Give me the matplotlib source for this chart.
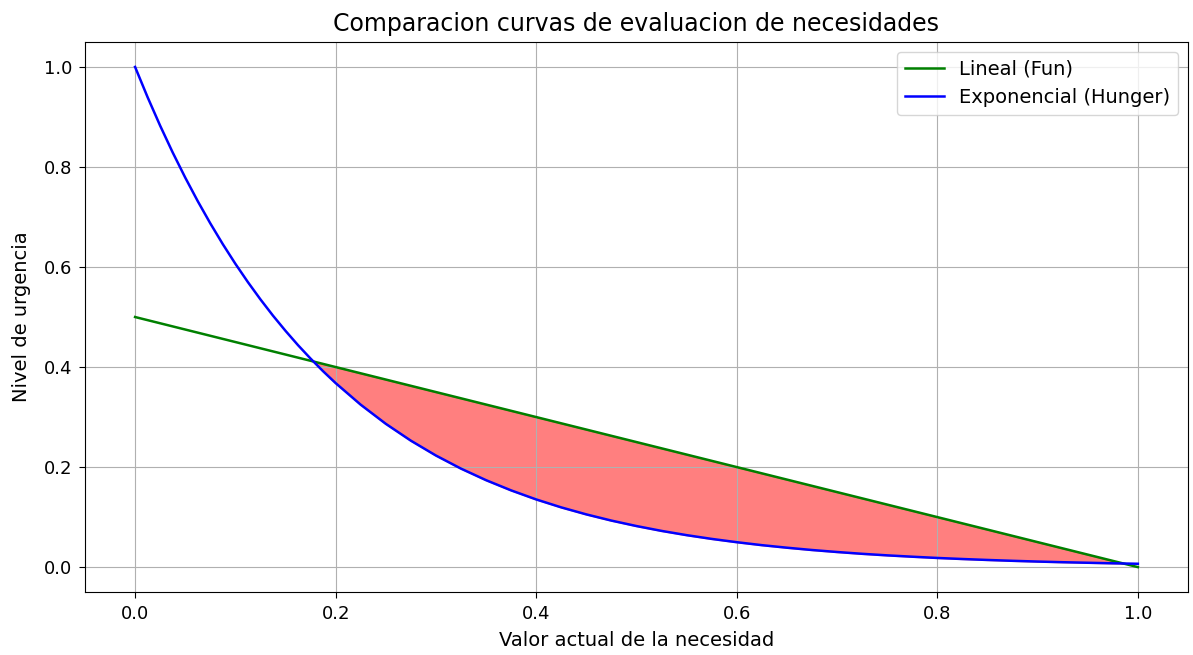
import matplotlib.pyplot as plt
import numpy as np

# valores (mas densos en el tramo empinado)
valor_necesidad = [0.0, 0.0125, 0.025, 0.0375, 0.05, 0.0625, 0.075, 0.0875, 0.1, 0.1125,
                   0.125, 0.1375, 0.15, 0.1625, 0.175, 0.1875, 0.2, 0.225,
                   0.25, 0.275, 0.3, 0.325, 0.35, 0.375, 0.4, 0.425, 0.45, 0.475,
                   0.5, 0.525, 0.55, 0.575, 0.6, 0.625, 0.65, 0.675, 0.7, 0.725,
                   0.75, 0.775, 0.8, 0.825, 0.85, 0.875, 0.9, 0.925, 0.95, 0.975, 1.0]
urgencia_lineal = [0.5, 0.49375, 0.4875, 0.48125, 0.475, 0.46875, 0.4625, 0.45625, 0.45, 0.44375,
                   0.4375, 0.43125, 0.425, 0.41875, 0.4125, 0.40625, 0.4, 0.3875,
                   0.375, 0.3625, 0.35, 0.3375, 0.325, 0.3125, 0.3, 0.2875, 0.275, 0.2625,
                   0.25, 0.2375, 0.225, 0.2125, 0.2, 0.1875, 0.175, 0.1625, 0.15, 0.1375,
                   0.125, 0.1125, 0.1, 0.0875, 0.075, 0.0625, 0.05, 0.0375, 0.025, 0.0125, 0.0]
urgencia_exp = [1.0, 0.9394, 0.8825, 0.8290, 0.7788, 0.7316, 0.6873, 0.6456, 0.6065, 0.5698,
                0.5353, 0.5028, 0.4724, 0.4437, 0.4169, 0.3916, 0.3679, 0.3247,
                0.2865, 0.2528, 0.2231, 0.1969, 0.1738, 0.1534, 0.1353, 0.1194, 0.1054, 0.0930,
                0.0821, 0.0724, 0.0639, 0.0564, 0.0498, 0.0439, 0.0388, 0.0342, 0.0302, 0.0266,
                0.0235, 0.0208, 0.0183, 0.0162, 0.0143, 0.0126, 0.0111, 0.0098, 0.0087, 0.0076, 0.0067]

x = np.array(valor_necesidad)
lin = np.array(urgencia_lineal)
exp = np.array(urgencia_exp)

fig, ax = plt.subplots(figsize=(11.93, 6.55), dpi=100)
fig.subplots_adjust(left=0.0712, right=0.9958, top=0.936, bottom=0.096)

ax.plot(x, lin, color='green', linewidth=1.8, label='Lineal (Fun)')
ax.plot(x, exp, color='blue', linewidth=1.8, label='Exponencial (Hunger)')
ax.fill_between(x, lin, exp, where=lin >= exp, interpolate=True, color='red', alpha=0.5)

ax.set_title('Comparacion curvas de evaluacion de necesidades', fontsize=17, pad=8)
ax.set_xlabel('Valor actual de la necesidad', fontsize=14, labelpad=6)
ax.set_ylabel('Nivel de urgencia', fontsize=14, labelpad=9)
ax.tick_params(labelsize=13, length=4.5, pad=4.5)
ax.grid(True)
ax.legend(fontsize=14)

fig.savefig('out.png')
